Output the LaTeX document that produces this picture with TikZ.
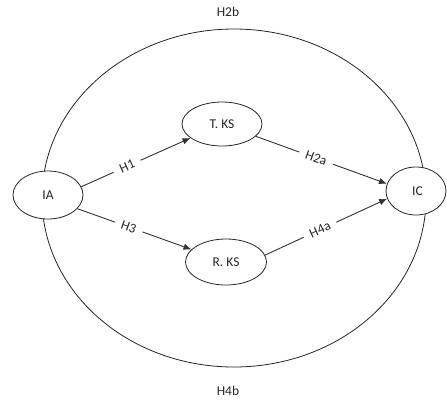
\documentclass[tikz,border=0pt]{standalone}
\usepackage{fontspec}
\setmainfont{Carlito}
\usetikzlibrary{arrows.meta,shapes.geometric}
\begin{document}
\begin{tikzpicture}[x=1pt,y=-1pt,
  every node/.style={font=\fontsize{13.5}{15}\selectfont, text=black!85},
  varnode/.style={draw=black!85, line width=0.8pt, ellipse, inner sep=0pt},
  arr/.style={draw=black!80, line width=0.9pt, -{Latex[length=8pt,width=6.5pt]}},
  lbl/.style={inner sep=1pt},
  onlbl/.style={sloped, fill=white, inner xsep=7pt, inner ysep=2pt}]
\useasboundingbox (0,0) rectangle (447,400);
\draw[line width=0.8pt, black!85] (234,198) ellipse [x radius=192pt, y radius=169pt];
\node[varnode, minimum width=70pt, minimum height=48pt, fill=white] (ia) at (48,195) {IA};
\node[varnode, minimum width=80pt, minimum height=44pt] (tks) at (222,124) {T. KS};
\node[varnode, minimum width=81pt, minimum height=46pt] (rks) at (226,262) {R. KS};
\node[varnode, minimum width=60pt, minimum height=48pt, fill=white] (ic) at (416,191) {\hspace*{3pt}IC};
\draw[arr] (ia.14) -- node[onlbl, pos=0.42] (h1) {H1} (tks.204);
\draw[arr] (ia.335) -- node[onlbl, pos=0.45] (h3) {H3} (rks.160);
\draw[arr] (tks.340) -- node[onlbl, pos=0.46] (h2a) {H2a} (ic.166);
\draw[arr] (rks.10) -- node[onlbl, pos=0.45] (h4a) {H4a} (ic.195);
\node[lbl] (h2b) at (228,12) {H2b};
\node[lbl] (h4b) at (228,391) {H4b};
\end{tikzpicture}
\end{document}
